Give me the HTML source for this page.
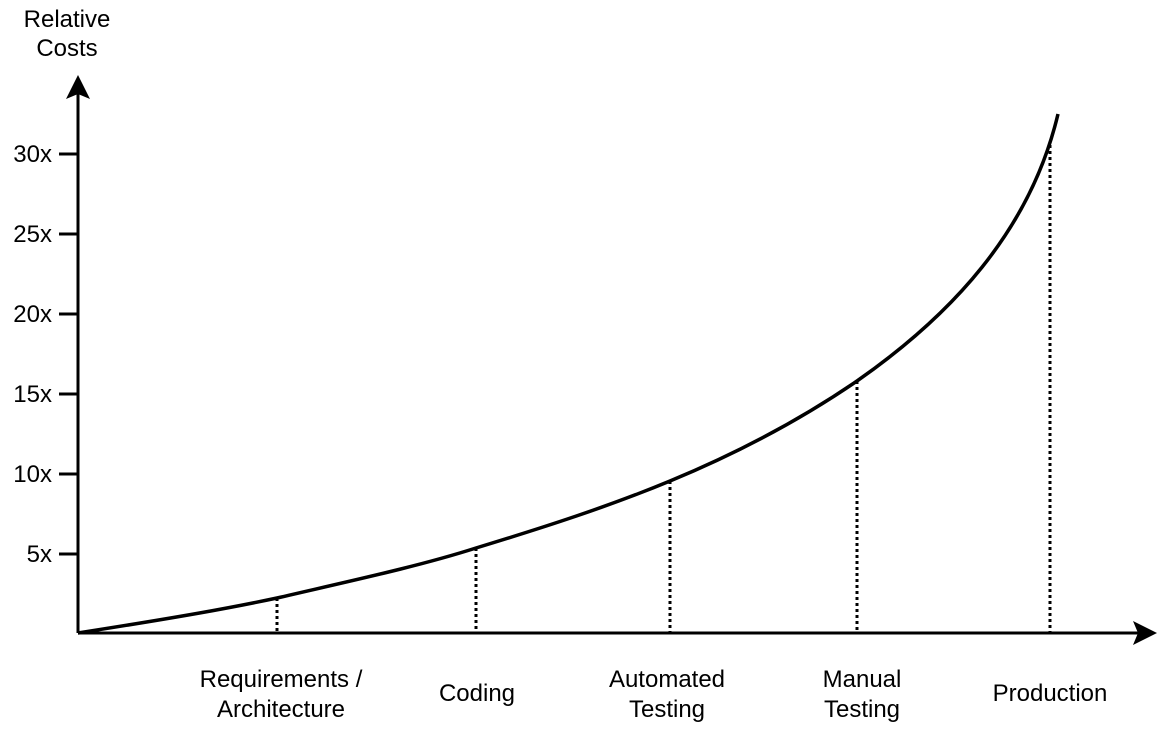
<!DOCTYPE html>
<html><head><style>
body{margin:0;background:#fff;}
svg text{font-family:"Liberation Sans",Arial,sans-serif;font-size:24px;fill:#000;}
</style></head><body>
<svg width="1162" height="730" viewBox="0 0 1162 730" xmlns="http://www.w3.org/2000/svg">
<rect width="1162" height="730" fill="#fff"/>
<g stroke="#000" stroke-width="3" fill="none">
<line x1="78" y1="633" x2="78" y2="92"/>
<line x1="78" y1="633" x2="1140" y2="633"/>
<line x1="59" y1="154" x2="78" y2="154"/>
<line x1="59" y1="234" x2="78" y2="234"/>
<line x1="59" y1="314" x2="78" y2="314"/>
<line x1="59" y1="394" x2="78" y2="394"/>
<line x1="59" y1="474" x2="78" y2="474"/>
<line x1="59" y1="554" x2="78" y2="554"/>
<path d="M78,633 C180,617 230,608 277,598 C350,581 420,566 476,548 C545,527 610,506 670,481 C740,452 800,420 857,381 C950,316 1030,232 1058,114" stroke-width="3.5"/>
</g>
<g stroke="#000" stroke-width="3" stroke-dasharray="3,3">
<line x1="277" y1="598" x2="277" y2="633"/>
<line x1="476" y1="548" x2="476" y2="633"/>
<line x1="670" y1="481" x2="670" y2="633"/>
<line x1="857" y1="381" x2="857" y2="633"/>
<line x1="1050" y1="145" x2="1050" y2="633"/>
</g>
<path d="M78,75 L90,99 L78,94 L66,99 Z" fill="#000"/>
<path d="M1157,633 L1133,645 L1138,633 L1133,621 Z" fill="#000"/>
<g text-anchor="end">
<text x="52" y="162">30x</text>
<text x="52" y="242">25x</text>
<text x="52" y="322">20x</text>
<text x="52" y="402">15x</text>
<text x="52" y="482">10x</text>
<text x="52" y="562">5x</text>
</g>
<g text-anchor="middle">
<text x="67" y="27">Relative</text>
<text x="67" y="56">Costs</text>
<text x="281" y="687">Requirements /</text>
<text x="281" y="717">Architecture</text>
<text x="477" y="701">Coding</text>
<text x="667" y="687">Automated</text>
<text x="667" y="717">Testing</text>
<text x="862" y="687">Manual</text>
<text x="862" y="717">Testing</text>
<text x="1050" y="701">Production</text>
</g>
</svg>
</body></html>
